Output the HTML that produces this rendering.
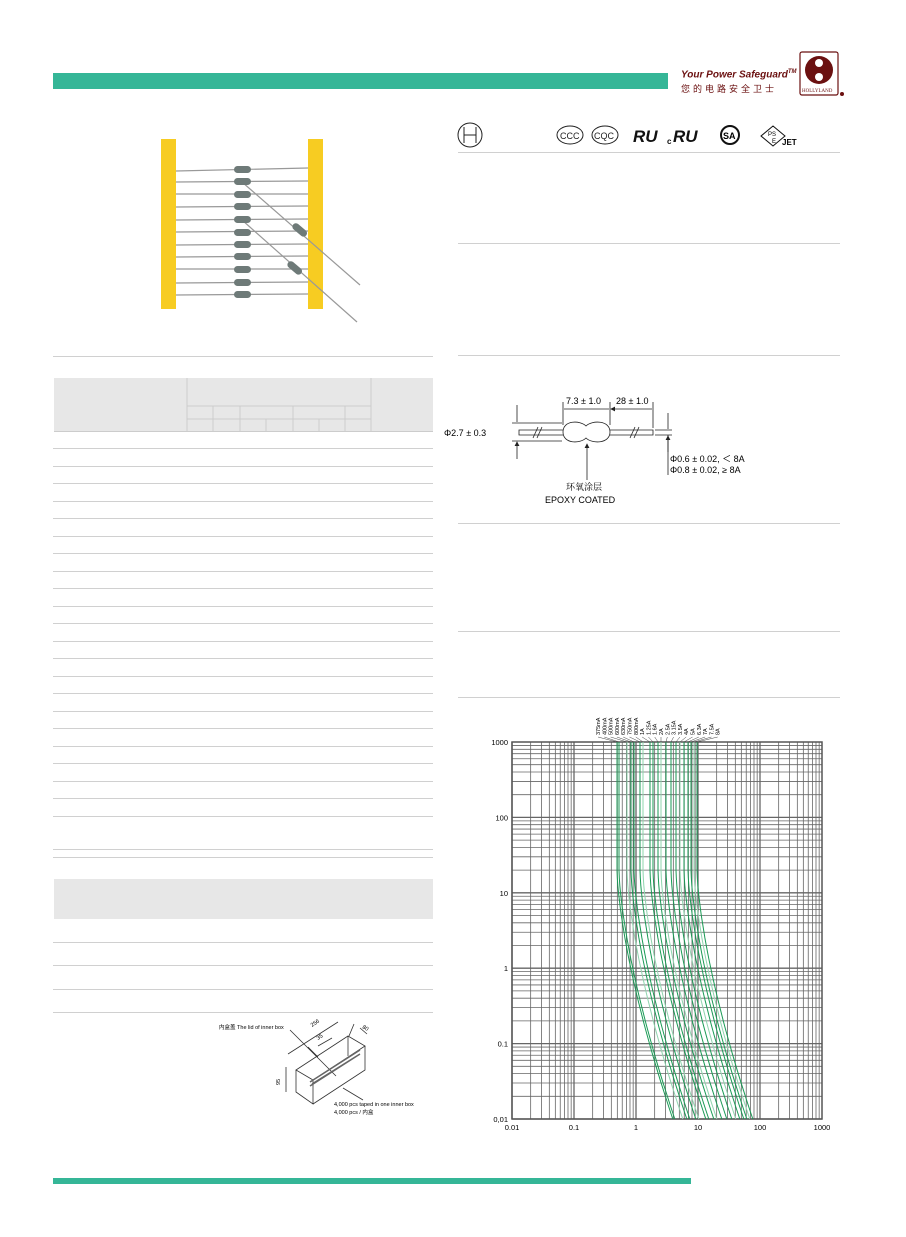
<!DOCTYPE html>
<html><head><meta charset="utf-8">
<style>
body{margin:0;background:#fff;}
#p{position:relative;width:906px;height:1237px;overflow:hidden;font-family:"Liberation Sans","Noto Sans CJK SC",sans-serif;}
.a{position:absolute;}
.hl{position:absolute;height:1px;background:#d0d0d0;}
</style></head><body><div id="p">
<div class="a" style="left:53px;top:73px;width:615px;height:16px;background:#35b697"></div>
<div class="a" style="left:53px;top:1178px;width:638px;height:6px;background:#35b697"></div>
<div class="a" style="left:681px;top:69px;font-size:10px;font-weight:bold;font-style:italic;color:#6b1010;white-space:nowrap">Your Power Safeguard<sup style="font-size:6px">TM</sup></div>
<div class="a" style="left:681px;top:82px;font-size:9px;color:#6b1010;letter-spacing:3px;white-space:nowrap">您的电路安全卫士</div>
<svg class="a" style="left:798px;top:50px" width="50" height="50"><rect x="2" y="2" width="38" height="43" fill="none" stroke="#6b1010" stroke-width="1.2" rx="2"/><circle cx="21" cy="20" r="14" fill="#6b1010"/><circle cx="21" cy="13" r="4" fill="#fff"/><circle cx="21" cy="27" r="4" fill="#fff"/><text x="4" y="42" font-size="5" fill="#6b1010" font-family="Liberation Serif">HOLLYLAND</text><circle cx="44" cy="44" r="2" fill="#6b1010"/></svg>

<svg class="a" style="left:455px;top:120px" width="360" height="36" font-family="Liberation Sans">
<ellipse cx="15" cy="15" rx="12" ry="12" fill="none" stroke="#222"/><path d="M9 7v16M21 7v16M9 15h12" stroke="#222" fill="none"/>
<ellipse cx="115" cy="15" rx="13" ry="9" fill="none" stroke="#222"/><text x="105" y="19" font-size="9" fill="#222">CCC</text>
<ellipse cx="150" cy="15" rx="13" ry="9" fill="none" stroke="#222"/><text x="139" y="19" font-size="9" fill="#222">CQC</text>
<text x="178" y="22" font-size="17" font-weight="bold" font-style="italic" fill="#111">RU</text>
<text x="212" y="24" font-size="8" font-weight="bold" fill="#111">c</text><text x="218" y="22" font-size="17" font-weight="bold" font-style="italic" fill="#111">RU</text>
<circle cx="275" cy="15" r="9" fill="none" stroke="#111" stroke-width="2"/><text x="268" y="19" font-size="9" font-weight="bold">SA</text>
<path d="M318 6l12 10-12 10-12-10z" fill="none" stroke="#111"/><text x="313" y="16" font-size="6">PS</text><text x="317" y="23" font-size="6">E</text><text x="327" y="25" font-size="8" font-weight="bold">JET</text>
</svg>
<div class="hl" style="left:458px;top:152px;width:382px"></div>
<div class="hl" style="left:458px;top:243px;width:382px"></div>
<div class="hl" style="left:458px;top:355px;width:382px"></div>
<div class="hl" style="left:458px;top:523px;width:382px"></div>
<div class="hl" style="left:458px;top:631px;width:382px"></div>
<div class="hl" style="left:458px;top:697px;width:382px"></div>

<svg class="a" style="left:150px;top:130px" width="220" height="200">
<rect x="11" y="9" width="15" height="170" fill="#f7cc22"/><rect x="158" y="9" width="15" height="170" fill="#f7cc22"/>
<g stroke="#999" stroke-width="1.2">
<line x1="26" y1="41" x2="158" y2="38"/><line x1="26" y1="52" x2="158" y2="51"/><line x1="26" y1="64" x2="158" y2="64"/><line x1="26" y1="77" x2="158" y2="76"/><line x1="26" y1="90" x2="158" y2="89"/><line x1="26" y1="102" x2="158" y2="101"/><line x1="26" y1="115" x2="158" y2="114"/><line x1="26" y1="127" x2="158" y2="126"/><line x1="26" y1="139" x2="158" y2="139"/><line x1="26" y1="153" x2="158" y2="152"/><line x1="26" y1="165" x2="158" y2="164"/>
<line x1="92" y1="52" x2="210" y2="155"/><line x1="92" y1="90" x2="207" y2="192"/></g>
<g fill="#6e7a78"><rect x="84" y="36" width="17" height="7" rx="3.5"/><rect x="84" y="48" width="17" height="7" rx="3.5"/><rect x="84" y="61" width="17" height="7" rx="3.5"/><rect x="84" y="73" width="17" height="7" rx="3.5"/><rect x="84" y="86" width="17" height="7" rx="3.5"/><rect x="84" y="99" width="17" height="7" rx="3.5"/><rect x="84" y="111" width="17" height="7" rx="3.5"/><rect x="84" y="123" width="17" height="7" rx="3.5"/><rect x="84" y="136" width="17" height="7" rx="3.5"/><rect x="84" y="149" width="17" height="7" rx="3.5"/><rect x="84" y="161" width="17" height="7" rx="3.5"/>
<rect x="141" y="96" width="17" height="7" rx="3.5" transform="rotate(40 149 100)"/><rect x="136" y="134" width="17" height="7" rx="3.5" transform="rotate(40 144 138)"/></g>
</svg>

<div class="hl" style="left:53px;top:356px;width:380px"></div>
<div class="a" style="left:54px;top:378px;width:379px;height:53px;background:#e7e7e7;border-bottom:1px solid #ccc"></div>
<svg class="a" style="left:0;top:0" width="440" height="440"><g stroke="#ccc" stroke-width="1"><line x1="187" y1="378" x2="187" y2="432"/><line x1="371" y1="378" x2="371" y2="432"/><line x1="187" y1="406" x2="371" y2="406"/><line x1="187" y1="419" x2="371" y2="419"/><line x1="213" y1="406" x2="213" y2="432"/><line x1="240" y1="406" x2="240" y2="432"/><line x1="266" y1="419" x2="266" y2="432"/><line x1="293" y1="406" x2="293" y2="432"/><line x1="319" y1="419" x2="319" y2="432"/><line x1="345" y1="406" x2="345" y2="432"/></g></svg>
<div id="rows"></div>
<div class="a" style="left:54px;top:879px;width:379px;height:40px;background:#e7e7e7"></div>
<div class="hl" style="left:53px;top:942px;width:380px"></div>
<div class="hl" style="left:53px;top:965px;width:380px"></div>
<div class="hl" style="left:53px;top:989px;width:380px"></div>
<div class="hl" style="left:53px;top:1012px;width:380px"></div>

<svg class="a" style="left:200px;top:1010px" width="240" height="120" font-family="Liberation Sans" font-size="5.5">
<g stroke="#333" fill="none" stroke-width="0.8">
<path d="M96 60l52-34 17 10-52 34z"/><path d="M96 60v22l17 12V70"/><path d="M113 94l52-34V36"/><path d="M148 26v20"/>
<path d="M90 20l46 46M88 44l50-32M149 26l5-12M160 18l7 6M86 57v25M108 37l10 10M118 36l14-8"/>
<path d="M110 72l50-32M110 76l50-32M112 74l48-30" stroke="#666" stroke-width="1.5"/>
<path d="M143 78l20 12"/>
</g>
<text x="19" y="19">内盒盖 The lid of inner box</text>
<text x="112" y="17" transform="rotate(-33 112 17)">256</text>
<text x="162" y="18" transform="rotate(30 162 18)">80</text>
<text x="118" y="30" transform="rotate(-33 118 30)">35</text>
<text x="80" y="75" transform="rotate(-90 80 75)">95</text>
<text x="134" y="96">4,000 pcs taped in one inner box</text>
<text x="134" y="104">4,000 pcs / 内盒</text>
</svg>

<svg class="a" style="left:440px;top:380px" width="320" height="130" font-family="Liberation Sans" font-size="9">
<defs><marker id="ar" markerWidth="6" markerHeight="6" refX="5" refY="3" orient="auto"><path d="M0 0L6 3L0 6z" fill="#222"/></marker></defs>
<g stroke="#222" fill="none" stroke-width="0.8">
<path d="M123 52C123 40 140 40 146 46C152 40 170 40 170 52C170 64 152 64 146 58C140 64 123 64 123 52z"/>
<path d="M123 50H79v5h44M170 50h43v5h-43"/>
<path d="M93 58l5-11M97 58l5-11M190 58l5-11M194 58l5-11"/>
<path d="M123 45V22M170 45V22M213 48V22"/>
<path d="M124 29h45M169 29h-45M171 29h41M212 29h-41" marker-end="url(#ar)"/>
<path d="M72 43h50M72 61h50"/>
<path d="M77 25v17M77 79v-17" marker-end="url(#ar)"/>
<path d="M215 50h17M215 55h17"/>
<path d="M228 33v16M228 72v-16" marker-end="url(#ar)"/><path d="M228 55v40"/>
<path d="M147 100V64" marker-end="url(#ar)"/>
</g>
<text x="4" y="56">Φ2.7 ± 0.3</text><text x="126" y="24">7.3 ± 1.0</text><text x="176" y="24">28 ± 1.0</text>
<text x="230" y="82">Φ0.6 ± 0.02, ＜ 8A</text><text x="230" y="93">Φ0.8 ± 0.02, ≥ 8A</text>
<text x="126" y="110" font-family="Liberation Serif,Noto Serif CJK SC,serif">环氧涂层</text>
<text x="105" y="123">EPOXY COATED</text>
</svg>

<svg id="ch" class="a" style="left:0;top:0" width="906" height="1237" font-family="Liberation Sans" font-size="7.5"></svg>
<script>
var r=document.getElementById('rows'),ys=[448,466,483,501,518,536,553,571,588,606,623,641,658,676,693,711,728,746,763,781,798,816,849,857];
ys.forEach(function(y){var d=document.createElement('div');d.className='hl';d.style.cssText='left:53px;top:'+y+'px;width:380px';r.appendChild(d);});
var s='',X0=512,DX=62,Y0=742,DY=75.4;
function gx(v){return X0+Math.log10(v/0.01)*DX}function gy(t){return Y0+(3-Math.log10(t))*DY}
for(var d=0;d<5;d++)for(var k=1;k<10;k++){var v=0.01*Math.pow(10,d)*k,x=gx(v);s+='<line x1="'+x+'" y1="742" x2="'+x+'" y2="1119" stroke="#666" stroke-width="'+(k==1?1.3:0.8)+'"/>';var y=gy(v);s+='<line x1="512" y1="'+y+'" x2="822" y2="'+y+'" stroke="#666" stroke-width="'+(k==1?1.3:0.8)+'"/>';}
s+='<rect x="512" y="742" width="310" height="377" fill="none" stroke="#555" stroke-width="1.5"/>';
var ticks=['0.01','0.1','1','10','100','1000'];for(var i=0;i<6;i++){s+='<text x="'+(X0+i*DX)+'" y="1130" text-anchor="middle">'+ticks[i]+'</text>';var yl=['1000','100','10','1','0.1','0,01'][i];s+='<text x="508" y="'+(Y0+i*DY+3)+'" text-anchor="end">'+yl+'</text>';}
var tops=[617,619,627,631,634,640,643,650,653,658,661,666,671,676,680,684,688,691,694,697],labs=['375mA','400mA','500mA','600mA','630mA','750mA','800mA','1A','1.25A','1.6A','2A','2.5A','3.15A','3.5A','4A','5A','6.3A','7A','7.5A','8A'];
tops.forEach(function(tx,i){var p='';for(var u=3;u>=-2.001;u-=0.1){var dd=u<1.3?0.9*Math.pow((1.3-u)/3.3,1.5):0;var x=tx+dd*DX;p+=(p?'L':'M')+x.toFixed(1)+' '+(Y0+(3-u)*DY).toFixed(1);}
s+='<path d="'+p+'" fill="none" stroke="'+(i%4==2?'#8fd4ae':'#1a9a55')+'" stroke-width="1"/>';
var lx=598+i*6.3;s+='<line x1="'+lx+'" y1="737" x2="'+tx+'" y2="742" stroke="#444" stroke-width="0.5"/>';
s+='<text x="'+(lx+2)+'" y="735" font-size="5.5" transform="rotate(-90 '+(lx+2)+' 735)">'+labs[i]+'</text>';});
document.getElementById('ch').innerHTML=s;
</script>
</div></body></html>
